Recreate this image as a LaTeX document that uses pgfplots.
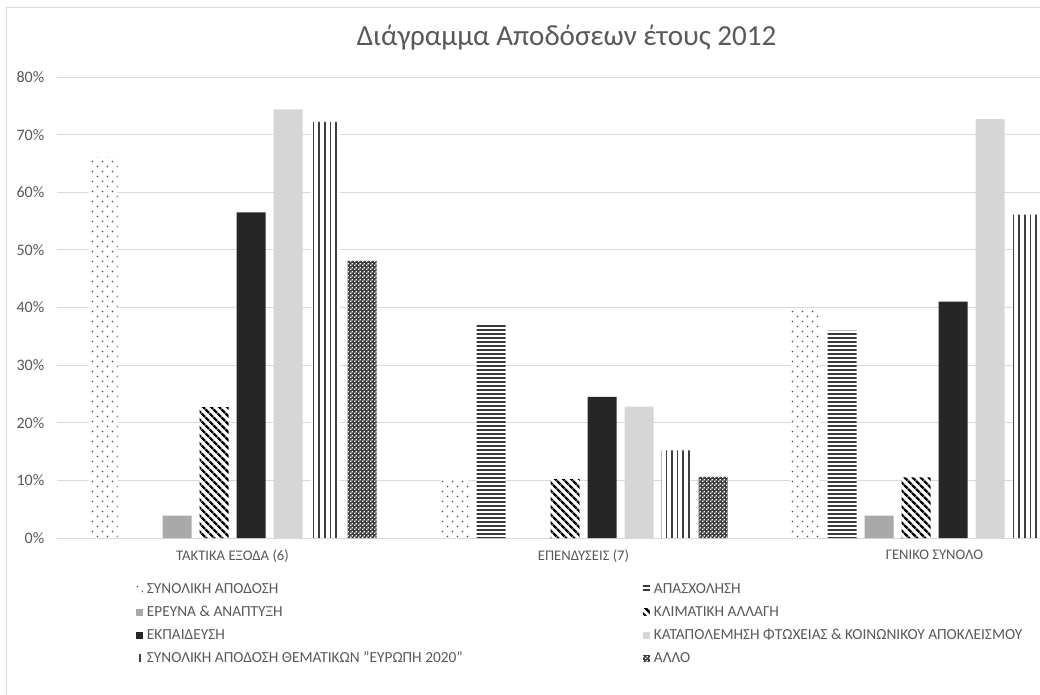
\documentclass[border=0pt]{standalone}
\usepackage{pgfplots}
\pgfplotsset{compat=1.18}
\usepackage{fontspec}
\setmainfont{Carlito}
\usetikzlibrary{patterns,patterns.meta}

\definecolor{txt}{HTML}{595959}
\definecolor{gridc}{HTML}{D9D9D9}
\definecolor{framec}{HTML}{D9D9D9}
\definecolor{dotc}{HTML}{4A4A4A}
\definecolor{hlc}{HTML}{3A3A3A}
\definecolor{c3}{HTML}{A9A9A9}
\definecolor{c5}{HTML}{262626}
\definecolor{c6}{HTML}{D6D6D6}
\definecolor{vlc}{HTML}{404040}
\definecolor{chc}{HTML}{404040}

\pgfdeclarepatternformonly{sparsedots}{\pgfqpoint{-1pt}{-1pt}}{\pgfqpoint{9pt}{9pt}}{\pgfqpoint{7.5pt}{7.5pt}}{%
 \pgfpathcircle{\pgfqpoint{1.9pt}{1.9pt}}{0.65pt}%
 \pgfpathcircle{\pgfqpoint{5.65pt}{5.65pt}}{0.65pt}%
 \pgfusepath{fill}}
\pgfdeclarepatternformonly{whitechecks}{\pgfqpoint{0pt}{0pt}}{\pgfqpoint{2.6pt}{2.6pt}}{\pgfqpoint{2.6pt}{2.6pt}}{%
 \pgfpathrectangle{\pgfqpoint{0pt}{0pt}}{\pgfqpoint{1.1pt}{1.1pt}}%
 \pgfpathrectangle{\pgfqpoint{1.3pt}{1.3pt}}{\pgfqpoint{1.1pt}{1.1pt}}%
 \pgfusepath{fill}}

\begin{document}
\begin{tikzpicture}
\useasboundingbox (0,0) rectangle (780pt,520.5pt);
\clip (0,0) rectangle (780pt,520.5pt);
\fill[white] (0,0) rectangle (780pt,520.5pt);
\draw[framec, line width=0.75pt] (4.5pt,-2pt) -- (4.5pt,514.5pt) -- (790pt,514.5pt);
\begin{axis}[
  at={(42.75pt,117pt)}, anchor=south west,
  scale only axis, width=789.75pt, height=345.75pt,
  xmin=-0.5, xmax=2.5, ymin=0, ymax=80,
  ybar=6pt, bar width=21.75pt,
  axis line style={draw=none},
  major tick length=0pt,
  ymajorgrids, grid style={gridc, line width=0.75pt},
  ytick={0,10,...,80},
  yticklabel={\pgfmathprintnumber{\tick}\%},
  /pgf/number format/assume math mode=true,
  xtick={0,1,2},
  xticklabels={ΤΑΚΤΙΚΑ ΕΞΟΔΑ (6), ΕΠΕΝΔΥΣΕΙΣ (7), ΓΕΝΙΚΟ ΣΥΝΟΛΟ},
  yticklabel style={font=\fontsize{12}{14}\selectfont, text=txt, xshift=-6pt},
  xticklabel style={font=\fontsize{11}{13}\selectfont, text=txt, yshift=-5.5pt},
  legend columns=2,
  legend style={draw=none, fill=none, inner sep=0pt, outer sep=0pt,
    at={(rel axis cs:0.075,-0.095)}, anchor=north west,
    font=\fontsize{11.5}{14}\selectfont, text=txt,
    row sep=6.25pt,
    nodes={inner sep=0pt, text height=8.5pt, text depth=2.5pt},
    /tikz/every odd column/.append style={column sep=3pt}},
  legend cell align=left,
  legend image code/.code={\path[#1] (0pt,-2.6pt) rectangle (5.25pt,2.6pt);},
]
\addplot[fill=white, draw=none, postaction={pattern=sparsedots, pattern color=dotc}]
  coordinates {(0,66.1) (1,10.4) (2,39.7)};
\addlegendentry{\makebox[372pt][l]{ΣΥΝΟΛΙΚΗ ΑΠΟΔΟΣΗ}}
\addplot[fill=white, draw=none, postaction={pattern={Lines[angle=0,distance=3pt,line width=1.1pt]}, pattern color=hlc}]
  coordinates {(1,37.0) (2,36.0)};
\addlegendentry{ΑΠΑΣΧΟΛΗΣΗ}
\addplot[fill=c3, draw=none]
  coordinates {(0,3.9) (2,3.9)};
\addlegendentry{\makebox[372pt][l]{ΕΡΕΥΝΑ \& ΑΝΑΠΤΥΞΗ}}
\addplot[fill=white, draw=none, postaction={pattern={Lines[angle=-45,distance=4pt,line width=2pt]}, pattern color=black}]
  coordinates {(0,22.7) (1,10.2) (2,10.5)};
\addlegendentry{ΚΛΙΜΑΤΙΚΗ ΑΛΛΑΓΗ}
\addplot[fill=c5, draw=none]
  coordinates {(0,56.5) (1,24.5) (2,41.0)};
\addlegendentry{\makebox[372pt][l]{ΕΚΠΑΙΔΕΥΣΗ}}
\addplot[fill=c6, draw=none]
  coordinates {(0,74.4) (1,22.8) (2,72.7)};
\addlegendentry{ΚΑΤΑΠΟΛΕΜΗΣΗ ΦΤΩΧΕΙΑΣ \& ΚΟΙΝΩΝΙΚΟΥ ΑΠΟΚΛΕΙΣΜΟΥ}
\addplot[fill=white, draw=none, postaction={pattern={Lines[angle=90,distance=4.2pt,line width=1.1pt]}, pattern color=vlc}]
  coordinates {(0,72.2) (1,15.2) (2,56.1)};
\addlegendentry{\makebox[372pt][l]{ΣΥΝΟΛΙΚΗ ΑΠΟΔΟΣΗ ΘΕΜΑΤΙΚΩΝ "ΕΥΡΩΠΗ 2020"}}
\addplot[fill=chc, draw=none, postaction={pattern=whitechecks, pattern color=white}]
  coordinates {(0,48.1) (1,10.6)};
\addlegendentry{ΆΛΛΟ}
\end{axis}
\node[text=txt, font=\fontsize{21.8}{26}\selectfont] at (424.9pt,492pt) {Διάγραμμα Αποδόσεων έτους 2012};
\end{tikzpicture}
\end{document}
